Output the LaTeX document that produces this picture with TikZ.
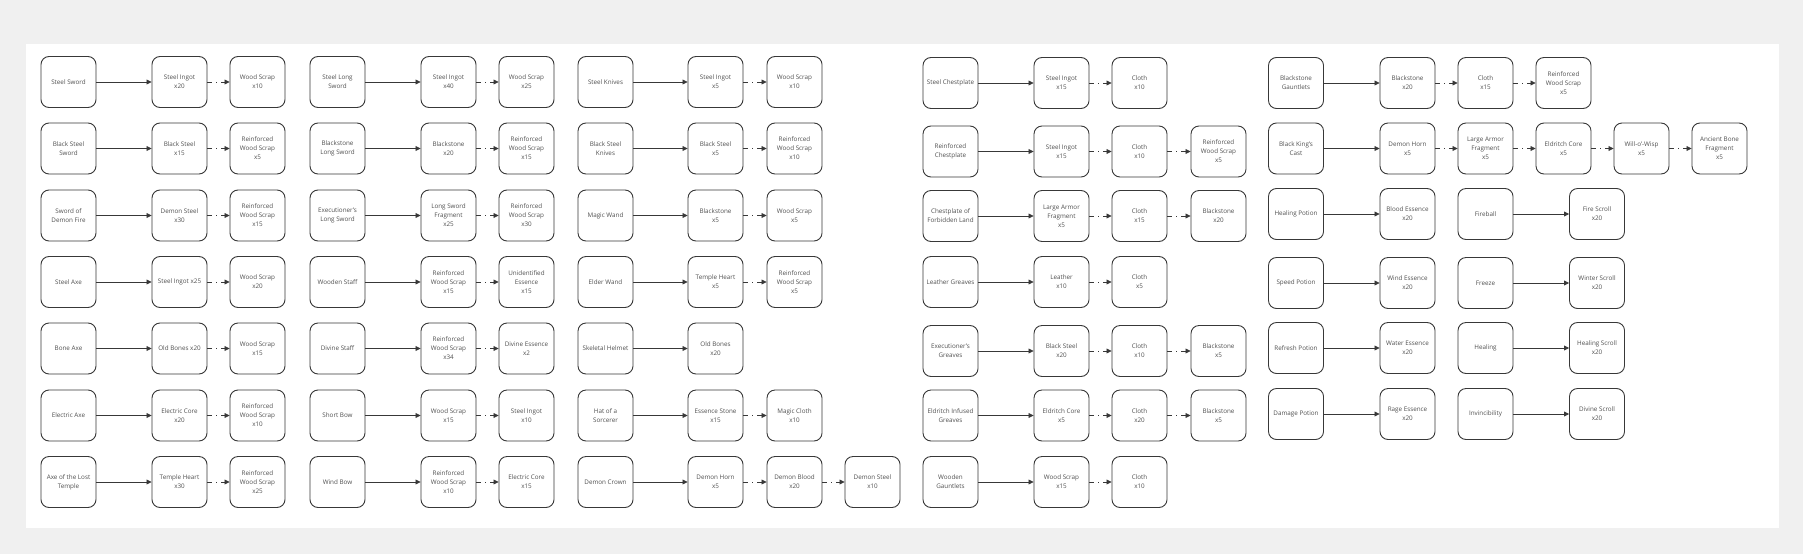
\documentclass[tikz,border=0pt]{standalone}
\usepackage{fontspec}
\setmainfont{Open Sans}
\usetikzlibrary{arrows.meta}
\definecolor{bg}{HTML}{F0F0F0}
\definecolor{edge}{HTML}{383838}
\definecolor{txt}{HTML}{505050}
\begin{document}
\begin{tikzpicture}[x=1pt,y=-1pt,
 box/.style={draw=edge, line width=0.9pt, rounded corners=8pt, minimum width=55pt, minimum height=51pt, inner sep=1pt, align=center, text=txt, font=\fontsize{6.3}{9}\selectfont},
 link/.style={draw=edge, line width=0.8pt, -{Triangle[length=5pt,width=4.8pt]}},
 dlink/.style={link, dash pattern=on 5pt off 4pt on 1pt off 4pt}]
\fill[bg] (0,0) rectangle (1803,554);
\fill[white] (26,44) rectangle (1779,528);
\useasboundingbox (0,0) rectangle (1803,554);

% ---------- Group 1 ----------
\node[box] (a11) at (68.5,82) {Steel Sword};
\node[box] (a12) at (179.5,82) {Steel Ingot\\x20};
\node[box] (a13) at (257.5,82) {Wood Scrap\\x10};
\node[box] (a21) at (68.5,148.5) {Black Steel\\Sword};
\node[box] (a22) at (179.5,148.5) {Black Steel\\x15};
\node[box] (a23) at (257.5,148.5) {Reinforced\\Wood Scrap\\x5};
\node[box] (a31) at (68.5,215.5) {Sword of\\Demon Fire};
\node[box] (a32) at (179.5,215.5) {Demon Steel\\x30};
\node[box] (a33) at (257.5,215.5) {Reinforced\\Wood Scrap\\x15};
\node[box] (a41) at (68.5,282) {Steel Axe};
\node[box] (a42) at (179.5,282) {Steel Ingot x25};
\node[box] (a43) at (257.5,282) {Wood Scrap\\x20};
\node[box] (a51) at (68.5,348.5) {Bone Axe};
\node[box] (a52) at (179.5,348.5) {Old Bones x20};
\node[box] (a53) at (257.5,348.5) {Wood Scrap\\x15};
\node[box] (a61) at (68.5,415.5) {Electric Axe};
\node[box] (a62) at (179.5,415.5) {Electric Core\\x20};
\node[box] (a63) at (257.5,415.5) {Reinforced\\Wood Scrap\\x10};
\node[box] (a71) at (68.5,482) {Axe of the Lost\\Temple};
\node[box] (a72) at (179.5,482) {Temple Heart\\x30};
\node[box] (a73) at (257.5,482) {Reinforced\\Wood Scrap\\x25};

% ---------- Group 2 ----------
\node[box] (b11) at (337.5,82) {Steel Long\\Sword};
\node[box] (b12) at (448.5,82) {Steel Ingot\\x40};
\node[box] (b13) at (526.5,82) {Wood Scrap\\x25};
\node[box] (b21) at (337.5,148.5) {Blackstone\\Long Sword};
\node[box] (b22) at (448.5,148.5) {Blackstone\\x20};
\node[box] (b23) at (526.5,148.5) {Reinforced\\Wood Scrap\\x15};
\node[box] (b31) at (337.5,215.5) {Executioner's\\Long Sword};
\node[box] (b32) at (448.5,215.5) {Long Sword\\Fragment\\x25};
\node[box] (b33) at (526.5,215.5) {Reinforced\\Wood Scrap\\x30};
\node[box] (b41) at (337.5,282) {Wooden Staff};
\node[box] (b42) at (448.5,282) {Reinforced\\Wood Scrap\\x15};
\node[box] (b43) at (526.5,282) {Unidentified\\Essence\\x15};
\node[box] (b51) at (337.5,348.5) {Divine Staff};
\node[box] (b52) at (448.5,348.5) {Reinforced\\Wood Scrap\\x34};
\node[box] (b53) at (526.5,348.5) {Divine Essence\\x2};
\node[box] (b61) at (337.5,415.5) {Short Bow};
\node[box] (b62) at (448.5,415.5) {Wood Scrap\\x15};
\node[box] (b63) at (526.5,415.5) {Steel Ingot\\x10};
\node[box] (b71) at (337.5,482) {Wind Bow};
\node[box] (b72) at (448.5,482) {Reinforced\\Wood Scrap\\x10};
\node[box] (b73) at (526.5,482) {Electric Core\\x15};

% ---------- Group 3 ----------
\node[box] (c11) at (605.5,82) {Steel Knives};
\node[box] (c12) at (715.5,82) {Steel Ingot\\x5};
\node[box] (c13) at (794.5,82) {Wood Scrap\\x10};
\node[box] (c21) at (605.5,148.5) {Black Steel\\Knives};
\node[box] (c22) at (715.5,148.5) {Black Steel\\x5};
\node[box] (c23) at (794.5,148.5) {Reinforced\\Wood Scrap\\x10};
\node[box] (c31) at (605.5,215.5) {Magic Wand};
\node[box] (c32) at (715.5,215.5) {Blackstone\\x5};
\node[box] (c33) at (794.5,215.5) {Wood Scrap\\x5};
\node[box] (c41) at (605.5,282) {Elder Wand};
\node[box] (c42) at (715.5,282) {Temple Heart\\x5};
\node[box] (c43) at (794.5,282) {Reinforced\\Wood Scrap\\x5};
\node[box] (c51) at (605.5,348.5) {Skeletal Helmet};
\node[box] (c52) at (715.5,348.5) {Old Bones\\x20};
\node[box] (c61) at (605.5,415.5) {Hat of a\\Sorcerer};
\node[box] (c62) at (715.5,415.5) {Essence Stone\\x15};
\node[box] (c63) at (794.5,415.5) {Magic Cloth\\x10};
\node[box] (c71) at (605.5,482) {Demon Crown};
\node[box] (c72) at (715.5,482) {Demon Horn\\x5};
\node[box] (c73) at (794.5,482) {Demon Blood\\x20};
\node[box] (c74) at (872.5,482) {Demon Steel\\x10};

% ---------- Group 4 ----------
\node[box] (d11) at (950.5,83) {Steel Chestplate};
\node[box] (d12) at (1061.5,83) {Steel Ingot\\x15};
\node[box] (d13) at (1139.5,83) {Cloth\\x10};
\node[box] (d21) at (950.5,151.5) {Reinforced\\Chestplate};
\node[box] (d22) at (1061.5,151.5) {Steel Ingot\\x15};
\node[box] (d23) at (1139.5,151.5) {Cloth\\x10};
\node[box] (d24) at (1218.5,151.5) {Reinforced\\Wood Scrap\\x5};
\node[box] (d31) at (950.5,216) {Chestplate of\\Forbidden Land};
\node[box] (d32) at (1061.5,216) {Large Armor\\Fragment\\x5};
\node[box] (d33) at (1139.5,216) {Cloth\\x15};
\node[box] (d34) at (1218.5,216) {Blackstone\\x20};
\node[box] (d41) at (950.5,282) {Leather Greaves};
\node[box] (d42) at (1061.5,282) {Leather\\x10};
\node[box] (d43) at (1139.5,282) {Cloth\\x5};
\node[box] (d51) at (950.5,351) {Executioner's\\Greaves};
\node[box] (d52) at (1061.5,351) {Black Steel\\x20};
\node[box] (d53) at (1139.5,351) {Cloth\\x10};
\node[box] (d54) at (1218.5,351) {Blackstone\\x5};
\node[box] (d61) at (950.5,415.5) {Eldritch Infused\\Greaves};
\node[box] (d62) at (1061.5,415.5) {Eldritch Core\\x5};
\node[box] (d63) at (1139.5,415.5) {Cloth\\x20};
\node[box] (d64) at (1218.5,415.5) {Blackstone\\x5};
\node[box] (d71) at (950.5,482) {Wooden\\Gauntlets};
\node[box] (d72) at (1061.5,482) {Wood Scrap\\x15};
\node[box] (d73) at (1139.5,482) {Cloth\\x10};

% ---------- Group 5 ----------
\node[box] (e11) at (1296,83) {Blackstone\\Gauntlets};
\node[box] (e12) at (1407.5,83) {Blackstone\\x20};
\node[box] (e13) at (1485.5,83) {Cloth\\x15};
\node[box] (e14) at (1563.5,83) {Reinforced\\Wood Scrap\\x5};
\node[box] (e21) at (1296,148.5) {Black King's\\Cast};
\node[box] (e22) at (1407.5,148.5) {Demon Horn\\x5};
\node[box] (e23) at (1485.5,148.5) {Large Armor\\Fragment\\x5};
\node[box] (e24) at (1563.5,148.5) {Eldritch Core\\x5};
\node[box] (e25) at (1641.5,148.5) {Will-o'-Wisp\\x5};
\node[box] (e26) at (1719.5,148.5) {Ancient Bone\\Fragment\\x5};
\node[box] (e31) at (1296,214) {Healing Potion};
\node[box] (e32) at (1407.5,214) {Blood Essence\\x20};
\node[box] (e33) at (1485.5,214) {Fireball};
\node[box] (e34) at (1597,214) {Fire Scroll\\x20};
\node[box] (e41) at (1296,283) {Speed Potion};
\node[box] (e42) at (1407.5,283) {Wind Essence\\x20};
\node[box] (e43) at (1485.5,283) {Freeze};
\node[box] (e44) at (1597,283) {Winter Scroll\\x20};
\node[box] (e51) at (1296,348) {Refresh Potion};
\node[box] (e52) at (1407.5,348) {Water Essence\\x20};
\node[box] (e53) at (1485.5,348) {Healing};
\node[box] (e54) at (1597,348) {Healing Scroll\\x20};
\node[box] (e61) at (1296,414) {Damage Potion};
\node[box] (e62) at (1407.5,414) {Rage Essence\\x20};
\node[box] (e63) at (1485.5,414) {Invincibility};
\node[box] (e64) at (1597,414) {Divine Scroll\\x20};

% ---------- Connectors ----------
\foreach \g in {a,b}{
  \foreach \r in {1,...,7}{
    \draw[link] (\g\r1) -- (\g\r2);
    \draw[dlink] (\g\r2) -- (\g\r3);
  }
}
\foreach \r in {1,2,3,4,6,7}{
  \draw[link] (c\r1) -- (c\r2);
  \draw[dlink] (c\r2) -- (c\r3);
}
\draw[link] (c51) -- (c52);
\draw[dlink] (c73) -- (c74);

\foreach \r in {1,...,7}{
  \draw[link] (d\r1) -- (d\r2);
  \draw[dlink] (d\r2) -- (d\r3);
}
\draw[dlink] (d23) -- (d24);
\draw[dlink] (d33) -- (d34);
\draw[dlink] (d53) -- (d54);
\draw[dlink] (d63) -- (d64);

\draw[link] (e11) -- (e12);
\draw[dlink] (e12) -- (e13);
\draw[dlink] (e13) -- (e14);
\draw[link] (e21) -- (e22);
\draw[dlink] (e22) -- (e23);
\draw[dlink] (e23) -- (e24);
\draw[dlink] (e24) -- (e25);
\draw[dlink] (e25) -- (e26);
\foreach \r in {3,4,5,6}{
  \draw[link] (e\r1) -- (e\r2);
  \draw[link] (e\r3) -- (e\r4);
}
\end{tikzpicture}
\end{document}
